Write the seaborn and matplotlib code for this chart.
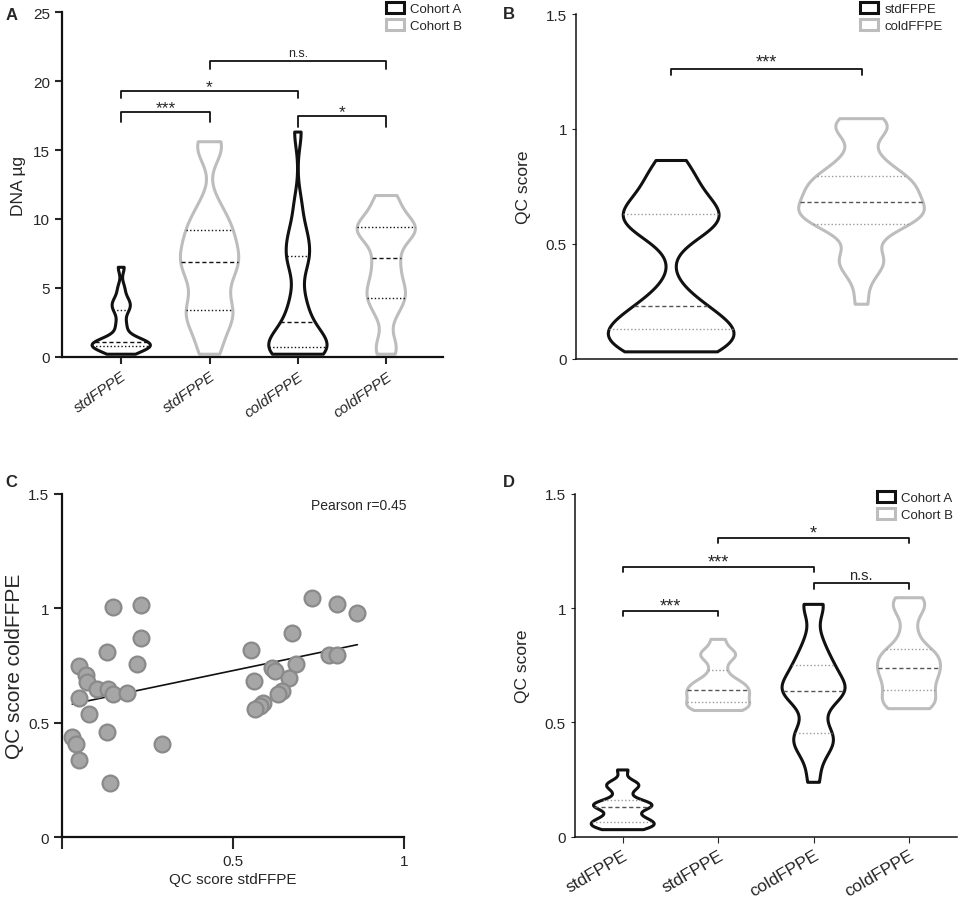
import numpy as np
import pandas as pd
import matplotlib
matplotlib.use("Agg")
import matplotlib.pyplot as plt
from matplotlib.patches import Patch
import seaborn as sns

# Panel A: DNA yield (ug) per fixation protocol and cohort
dna_std_a = [0.2, 0.4, 0.6, 0.7, 0.8, 0.8, 0.9, 0.9, 1.0, 1.1,
             1.1, 1.3, 2.0, 2.5, 3.3, 3.6, 3.9, 4.2, 5.0, 6.5]
dna_std_b = [0.2, 1.5, 2.6, 3.2, 3.4, 4.6, 5.6, 6.3, 6.9, 7.2,
             7.8, 8.6, 9.2, 9.8, 11.0, 14.9, 15.6]
dna_cold_a = [0.2, 0.3, 0.4, 0.5, 0.6, 0.8, 1.0, 1.2, 1.5, 2.2,
              2.8, 3.5, 4.6, 6.6, 7.2, 7.6, 8.7, 9.1, 11.0, 16.3]
dna_cold_b = [0.2, 1.0, 3.0, 4.0, 4.3, 5.0, 5.5, 6.5, 7.2, 8.3,
              8.9, 9.2, 9.4, 9.5, 10.0, 11.0, 11.7]

# Panel C: paired QC scores (stdFFPE, coldFFPE) per sample
qc_std_a = [0.151, 0.231, 0.231, 0.131, 0.221, 0.051, 0.070, 0.073, 0.102, 0.134,
            0.151, 0.192, 0.051, 0.081, 0.131, 0.031, 0.041, 0.051, 0.141, 0.292]
qc_cold_a = [1.007, 1.016, 0.869, 0.808, 0.757, 0.749, 0.709, 0.678, 0.648, 0.648,
             0.626, 0.629, 0.607, 0.538, 0.459, 0.439, 0.407, 0.339, 0.238, 0.407]
qc_std_b = [0.731, 0.803, 0.863, 0.673, 0.552, 0.781, 0.803, 0.683, 0.613,
            0.623, 0.663, 0.562, 0.642, 0.632, 0.588, 0.579, 0.564]
qc_cold_b = [1.045, 1.019, 0.978, 0.891, 0.819, 0.797, 0.797, 0.757, 0.739,
             0.727, 0.696, 0.681, 0.640, 0.626, 0.586, 0.575, 0.560]

group_labels = ["stdFPPE", "stdFPPE", "coldFPPE", "coldFPPE"]
cohorts = ["Cohort A", "Cohort B"]
methods = ["stdFFPE", "coldFFPE"]
pearson_r = 0.45

# significance brackets: (left, right, height, drop, label)
brackets_a = [(0, 1, 17.75, 0.75, "***"), (0, 2, 19.3, 0.5, "*"),
              (1, 3, 21.45, 0.55, "n.s."), (2, 3, 17.45, 0.75, "*")]
brackets_b = [(0, 1, 1.261, 0.026, "***")]
brackets_d = [(0, 1, 0.988, 0.022, "***"), (0, 2, 1.178, 0.022, "***"),
              (2, 3, 1.108, 0.025, "n.s."), (1, 3, 1.306, 0.023, "*")]

BLACK = "#111111"
GREY = "#bdbdbd"

sns.set_style("ticks")
plt.rcParams["font.family"] = ["Liberation Sans", "DejaVu Sans"]

fig = plt.figure(figsize=(9.59, 9.04), dpi=100)
ax_a = fig.add_axes([0.0647, 0.604, 0.397, 0.3816])
ax_b = fig.add_axes([0.6006, 0.6018, 0.397, 0.3816])
ax_c = fig.add_axes([0.0643, 0.0727, 0.3573, 0.3798])
ax_d = fig.add_axes([0.5996, 0.0733, 0.398, 0.3795])


def long_frame(groups):
    rows = []
    for key, cohort, vals in groups:
        for v in vals:
            rows.append((key, cohort, v))
    return pd.DataFrame(rows, columns=["group", "cohort", "value"])


def draw_violins(ax, df, order, hue_order, lw, bw):
    sns.violinplot(data=df, x="group", y="value", hue="cohort", order=order,
                   hue_order=hue_order, palette=[BLACK, GREY], dodge=False,
                   fill=False, cut=0, inner="quart", width=0.66,
                   density_norm="width", linewidth=lw, bw_adjust=bw,
                   legend=False, ax=ax, inner_kws=dict(linewidth=1.0))


def style_inner(ax, q_color, m_color):
    for i, line in enumerate(ax.lines):
        if i % 3 == 1:
            line.set_color(m_color)
            line.set_dashes([3, 2])
        else:
            line.set_color(q_color)
            line.set_dashes([1, 1.6])


def draw_brackets(ax, specs, star_size, ns_size, star_off, ns_off):
    for x1, x2, h, d, label in specs:
        ax.plot([x1, x1, x2, x2], [h - d, h, h, h - d], color=BLACK, lw=1.3,
                clip_on=False)
        star = "*" in label
        ax.annotate(label, xy=((x1 + x2) / 2, h),
                    xytext=(0, star_off if star else ns_off),
                    textcoords="offset points", ha="center", va="baseline",
                    fontsize=star_size if star else ns_size)


def cohort_legend(ax, labels, anchor):
    handles = [Patch(facecolor="white", edgecolor=c, linewidth=2.2, label=l)
               for c, l in zip([BLACK, GREY], labels)]
    ax.legend(handles=handles, loc="upper left", bbox_to_anchor=anchor,
              bbox_transform=fig.transFigure, frameon=False, fontsize=9.5,
              handlelength=1.4, handleheight=0.9, handletextpad=0.45,
              labelspacing=0.3, borderpad=0, borderaxespad=0)


# ---- A
keys = ["std A", "std B", "cold A", "cold B"]
df_a = long_frame([("std A", "Cohort A", dna_std_a), ("std B", "Cohort B", dna_std_b),
                   ("cold A", "Cohort A", dna_cold_a), ("cold B", "Cohort B", dna_cold_b)])
draw_violins(ax_a, df_a, keys, cohorts, 2.2, 0.45)
style_inner(ax_a, BLACK, BLACK)
ax_a.set_xlim(-0.67, 3.64)
ax_a.set_ylim(0, 25)
ax_a.set_yticks([0, 5, 10, 15, 20, 25])
ax_a.set_xticks(range(4))
ax_a.set_xticklabels(group_labels, rotation=35, ha="right", rotation_mode="anchor",
                     fontstyle="italic", fontsize=11)
ax_a.tick_params(axis="y", labelsize=11, width=1.5, length=5)
ax_a.tick_params(axis="x", width=1.5, length=5)
ax_a.set_xlabel("")
ax_a.set_ylabel("DNA µg", fontsize=12.5, labelpad=5)
draw_brackets(ax_a, brackets_a, 12.5, 9, 0, 3.5)
cohort_legend(ax_a, cohorts, (386 / 959, 1 - 3 / 904))

# ---- B
df_b = long_frame([("stdFFPE", "stdFFPE", qc_std_a + qc_std_b),
                   ("coldFFPE", "coldFFPE", qc_cold_a + qc_cold_b)])
draw_violins(ax_b, df_b, methods, methods, 2.2, 0.55)
style_inner(ax_b, "#9a9a9a", "#555555")
ax_b.set_xlim(-0.5, 1.5)
ax_b.set_ylim(0, 1.5)
ax_b.set_yticks([0, 0.5, 1, 1.5])
ax_b.set_yticklabels(["0", "0.5", "1", "1.5"])
ax_b.set_xticks([])
ax_b.tick_params(axis="y", labelsize=11, length=3)
ax_b.set_xlabel("")
ax_b.set_ylabel("QC score", fontsize=12.5, labelpad=11)
draw_brackets(ax_b, brackets_b, 13, 10.5, 1.5, 3)
cohort_legend(ax_b, methods, (860 / 959, 1 - 3 / 904))

# ---- C
qc_std = qc_std_a + qc_std_b
qc_cold = qc_cold_a + qc_cold_b
sns.regplot(x=qc_std, y=qc_cold, ci=None, scatter=False, ax=ax_c,
            line_kws=dict(color=BLACK, lw=1.2))
sns.scatterplot(x=qc_std, y=qc_cold, s=130, color="#a6a6a6", edgecolor="#8a8a8a",
                linewidth=1.6, zorder=3, ax=ax_c, clip_on=False)
ax_c.set_xlim(0, 1)
ax_c.set_ylim(0, 1.5)
ax_c.set_xticks([0, 0.5, 1])
ax_c.set_xticklabels(["", "0.5", "1"])
ax_c.set_yticks([0, 0.5, 1, 1.5])
ax_c.set_yticklabels(["0", "0.5", "1", "1.5"])
ax_c.tick_params(labelsize=11, width=1.5)
ax_c.tick_params(axis="x", length=8.5)
ax_c.tick_params(axis="y", length=5.5)
ax_c.set_xlabel("QC score stdFFPE", fontsize=11, labelpad=3)
ax_c.set_ylabel("QC score coldFFPE", fontsize=15, labelpad=3)
ax_c.text(1.005, 0.967, f"Pearson r={pearson_r}", transform=ax_c.transAxes,
          ha="right", va="center", fontsize=10)

# ---- D
df_d = long_frame([("std A", "Cohort A", qc_std_a), ("std B", "Cohort B", qc_std_b),
                   ("cold A", "Cohort A", qc_cold_a), ("cold B", "Cohort B", qc_cold_b)])
draw_violins(ax_d, df_d, keys, cohorts, 2.2, 0.5)
style_inner(ax_d, "#9a9a9a", "#555555")
ax_d.set_xlim(-0.5, 3.5)
ax_d.set_ylim(0, 1.5)
ax_d.set_yticks([0, 0.5, 1, 1.5])
ax_d.set_yticklabels(["0", "0.5", "1", "1.5"])
ax_d.set_xticks(range(4))
ax_d.set_xticklabels(group_labels, rotation=30, ha="right", rotation_mode="anchor",
                     fontsize=12.5)
ax_d.tick_params(axis="y", labelsize=11, length=3)
ax_d.tick_params(axis="x", length=4)
ax_d.set_xlabel("")
ax_d.set_ylabel("QC score", fontsize=12.5, labelpad=11)
draw_brackets(ax_d, brackets_d, 13, 10.5, 0.5, 3)
cohort_legend(ax_d, cohorts, (877 / 959, 1 - 492 / 904))

for ax in (ax_a, ax_c):
    sns.despine(ax=ax)
    for s in ("left", "bottom"):
        ax.spines[s].set_linewidth(1.6)
        ax.spines[s].set_color(BLACK)
for ax in (ax_b, ax_d):
    sns.despine(ax=ax)
    for s in ("left", "bottom"):
        ax.spines[s].set_linewidth(1.1)
        ax.spines[s].set_color(BLACK)

for letter, x, y in [("A", 6, 8), ("B", 503, 7), ("C", 5, 475), ("D", 503, 475)]:
    fig.text(x / 959, 1 - y / 904, letter, fontsize=12, fontweight="bold", va="top")

fig.savefig("out.png", dpi=100)
